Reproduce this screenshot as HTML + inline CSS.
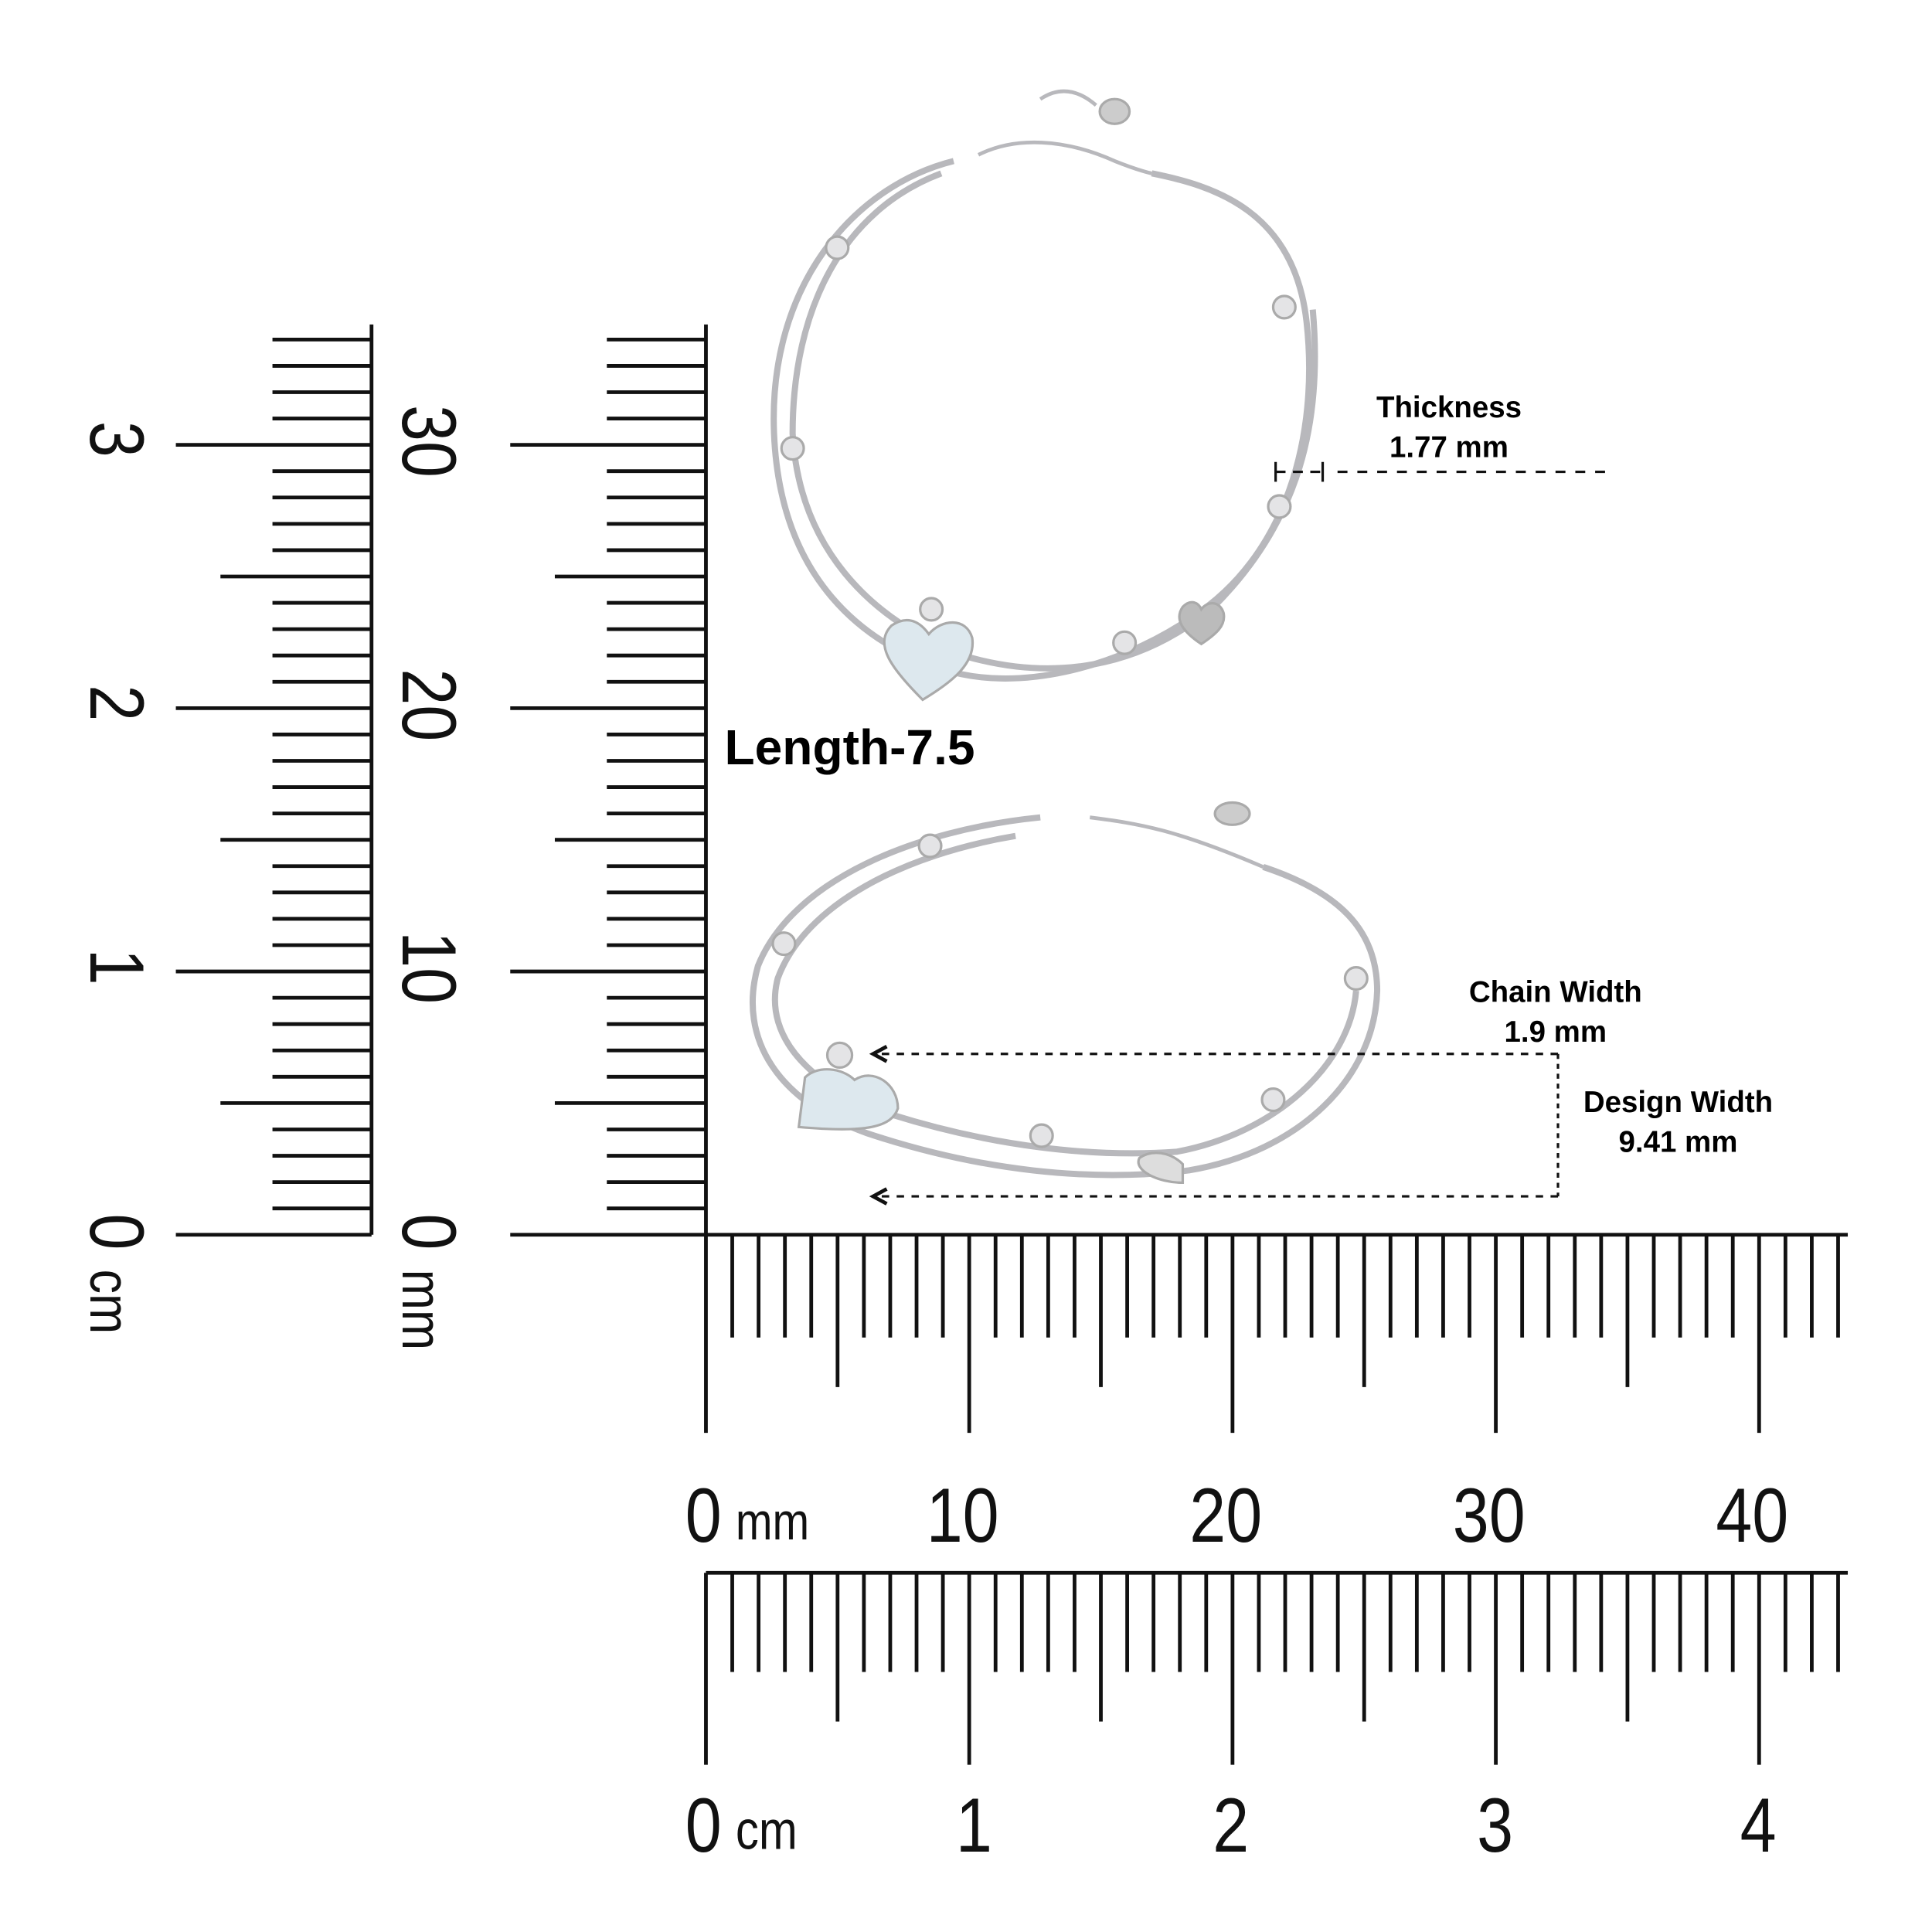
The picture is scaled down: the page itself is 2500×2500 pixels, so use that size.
<!DOCTYPE html>
<html><head><meta charset="utf-8"><style>
html,body{margin:0;padding:0;background:#fff}
svg{display:block}
.lbl{font-family:"Liberation Sans",sans-serif;fill:#111}
.b{font-family:"Liberation Sans",sans-serif;font-weight:bold;fill:#000}
</style></head><body>
<svg id="s" width="2500" height="2500" viewBox="0 0 1560 1560" xmlns="http://www.w3.org/2000/svg">
<rect width="1560" height="1560" fill="#fff"/>
<g id="ticks" stroke="#111" stroke-width="3"></g>
<!-- main lines -->
<g stroke="#111" stroke-width="3">
<line x1="570" y1="262" x2="570" y2="1157"/>
<line x1="300" y1="262" x2="300" y2="997"/>
<line x1="412" y1="997" x2="1492" y2="997"/>
<line x1="142" y1="997" x2="300" y2="997"/>
<line x1="570" y1="1270" x2="1492" y2="1270"/>
<line x1="570" y1="1270" x2="570" y2="1425"/>
</g>
<!-- horizontal labels -->
<g class="lbl" font-size="62" transform="scale(0.85,1)">
<text x="651" y="1245">0</text>
<text x="880" y="1245">10</text>
<text x="1130" y="1245">20</text>
<text x="1380" y="1245">30</text>
<text x="1630" y="1245">40</text>
<text x="651" y="1495">0</text>
<text x="908" y="1495">1</text>
<text x="1152" y="1495">2</text>
<text x="1403" y="1495">3</text>
<text x="1653" y="1495">4</text>
</g>
<text class="lbl" x="594" y="1243" font-size="42" transform="translate(594,1243) scale(0.85,1) translate(-594,-1243)">mm</text>
<text class="lbl" x="594" y="1493" font-size="44" transform="translate(594,1493) scale(0.85,1) translate(-594,-1493)">cm</text>
<!-- vertical labels rotated -->
<g class="lbl" font-size="62">
<text transform="translate(325,327) rotate(90) scale(0.85,1)">30</text>
<text transform="translate(325,540) rotate(90) scale(0.85,1)">20</text>
<text transform="translate(325,752) rotate(90) scale(0.85,1)">10</text>
<text transform="translate(325,980) rotate(90) scale(0.85,1)">0</text>
<text transform="translate(325,1025) rotate(90) scale(0.85,1)" font-size="46">mm</text>
<text transform="translate(73,340) rotate(90) scale(0.85,1)">3</text>
<text transform="translate(73,553) rotate(90) scale(0.85,1)">2</text>
<text transform="translate(73,766) rotate(90) scale(0.85,1)">1</text>
<text transform="translate(73,980) rotate(90) scale(0.85,1)">0</text>
<text transform="translate(73,1025) rotate(90) scale(0.85,1)" font-size="46">cm</text>
</g>
<!-- top bracelet -->
<g fill="none" stroke="#b8b8bc" stroke-width="5">
<path d="M770,130 C690,150 620,230 625,350 C630,470 700,520 760,540 C820,560 900,540 960,500 C1040,450 1065,350 1055,260 C1045,170 980,150 930,140"/>
<path d="M760,140 C680,170 640,250 640,350 C645,440 700,500 780,530 C850,550 920,540 980,490 C1050,420 1068,340 1060,250"/>
<path d="M790,125 C820,110 860,112 900,130 C920,138 930,140 930,140" stroke-width="3"/>
<path d="M840,80 C855,70 870,72 885,85" stroke-width="3"/>
</g>
<g fill="#e4e4e6" stroke="#aaa" stroke-width="2">
<circle cx="676" cy="200" r="9"/><circle cx="1037" cy="248" r="9"/><circle cx="640" cy="362" r="9"/>
<circle cx="1033" cy="409" r="9"/><circle cx="752" cy="492" r="9"/><circle cx="908" cy="519" r="9"/>
<path d="M745,565 C720,540 705,520 720,505 C735,495 745,505 750,512 C760,500 780,498 785,515 C788,535 770,550 745,565Z" fill="#dde8ee"/>
<path d="M970,520 C955,510 948,500 955,490 C962,483 968,487 970,492 C975,485 985,485 988,495 C990,505 982,512 970,520Z" fill="#bbb"/>
<ellipse cx="900" cy="90" rx="12" ry="10" fill="#ccc"/>
</g>
<!-- bottom bracelet -->
<g fill="none" stroke="#b8b8bc" stroke-width="5">
<path d="M840,660 C740,670 640,710 612,780 C595,840 630,890 700,915 C790,945 880,955 960,945 C1050,930 1110,870 1112,800 C1112,750 1080,720 1020,700"/>
<path d="M820,675 C730,690 650,730 628,790 C615,840 660,880 720,900 C800,925 880,935 950,930 C1030,915 1090,860 1095,800"/>
<path d="M880,660 C920,665 950,670 1020,700" stroke-width="3"/>
</g>
<g fill="#e4e4e6" stroke="#aaa" stroke-width="2">
<circle cx="751" cy="683" r="9"/><circle cx="633" cy="762" r="9"/><circle cx="678" cy="852" r="10"/>
<circle cx="1095" cy="790" r="9"/><circle cx="1028" cy="888" r="9"/><circle cx="841" cy="917" r="9"/>
<path d="M645,910 L650,870 C660,860 680,862 690,872 C705,862 725,875 725,895 C720,910 700,915 645,910Z" fill="#dde8ee"/>
<path d="M955,955 C935,955 915,945 920,935 C930,928 945,930 955,940Z" fill="#ddd"/>
<ellipse cx="995" cy="657" rx="14" ry="9" fill="#ccc"/>
</g>
<!-- annotations -->
<text class="b" x="585" y="617" font-size="40">Length-7.5</text>
<g class="b" font-size="24" text-anchor="middle">
<text x="1170" y="337">Thickness</text><text x="1170" y="369">1.77 mm</text>
<text x="1256" y="809">Chain Width</text><text x="1256" y="841">1.9 mm</text>
<text x="1355" y="898">Design Width</text><text x="1355" y="930">9.41 mm</text>
</g>
<g stroke="#111" stroke-width="2" fill="none">
<line x1="1030" y1="381" x2="1068" y2="381" stroke-dasharray="8,6"/>
<line x1="1030" y1="373" x2="1030" y2="389"/><line x1="1068" y1="373" x2="1068" y2="389"/>
<line x1="1080" y1="381" x2="1298" y2="381" stroke-dasharray="8,8"/>
<line x1="712" y1="851" x2="1258" y2="851" stroke-dasharray="6,6"/>
<line x1="1258" y1="851" x2="1258" y2="966" stroke-dasharray="4,4"/>
<line x1="712" y1="966" x2="1258" y2="966" stroke-dasharray="6,6"/>
<path d="M716,845 L705,851 L716,857" stroke-width="3"/>
<path d="M716,960 L705,966 L716,972" stroke-width="3"/>
</g>
</svg>
<script>
var g=document.getElementById('ticks'),ns='http://www.w3.org/2000/svg',s=21.26;
function L(a,b,c,d){var l=document.createElementNS(ns,'line');l.setAttribute('x1',a);l.setAttribute('y1',b);l.setAttribute('x2',c);l.setAttribute('y2',d);g.appendChild(l);}
for(var i=1;i<=43;i++){var x=570+i*s;var len=(i%10==0)?160:(i%5==0)?123:83;
L(x,997,x,997+len);
var len2=(i%10==0)?155:(i%5==0)?120:80;L(x,1270,x,1270+len2);}
for(var i=1;i<=34;i++){var y=997-i*s;var m=(i%10==0)?158:(i%5==0)?122:80;
L(570,y,570-m,y);L(300,y,300-m,y);}
</script>
</body></html>
